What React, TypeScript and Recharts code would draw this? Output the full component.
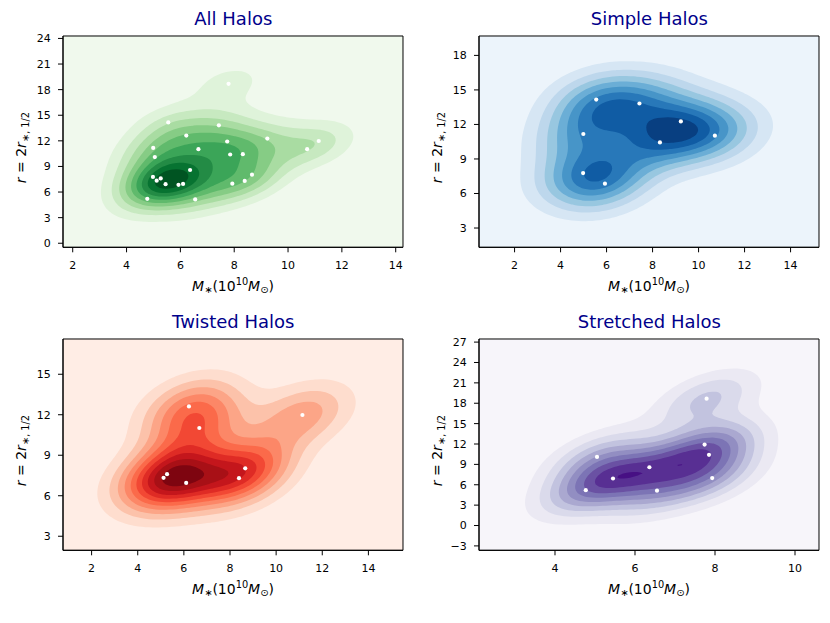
import React, { useMemo } from 'react';
import { ScatterChart, Scatter, XAxis, YAxis, CartesianGrid, ReferenceArea } from 'recharts';

const FONT = "'DejaVu Sans', sans-serif";

// ---- data: stellar mass (1e10 Msun) and radius r = 2 r_half ----
const simpleMass = [5.55, 7.43, 9.23, 4.99, 10.71, 8.32, 4.98, 5.93];
const simpleRadius = [14.16, 13.82, 12.26, 11.17, 11.02, 10.44, 7.77, 6.85];

const twistedMass = [6.22, 11.14, 6.67, 8.66, 8.39, 5.27, 5.12, 6.1];
const twistedRadius = [12.62, 11.98, 11.02, 8.03, 7.3, 7.6, 7.33, 6.95];

const stretchedMass = [7.79, 7.74, 7.85, 5.05, 6.36, 5.45, 7.93, 4.77, 6.55];
const stretchedRadius = [18.68, 11.92, 10.4, 10.1, 8.58, 6.92, 6.98, 5.2, 5.13];

const allMass = [...simpleMass, ...twistedMass, ...stretchedMass];
const allRadius = [...simpleRadius, ...twistedRadius, ...stretchedRadius];

// tick labels
const massTicks = [2, 4, 6, 8, 10, 12, 14];
const stretchedMassTicks = [4, 6, 8, 10];
const allRadiusTicks = [0, 3, 6, 9, 12, 15, 18, 21, 24];
const simpleRadiusTicks = [3, 6, 9, 12, 15, 18];
const twistedRadiusTicks = [3, 6, 9, 12, 15];
const stretchedRadiusTicks = [-3, 0, 3, 6, 9, 12, 15, 18, 21, 24, 27];

const titles = ['All Halos', 'Simple Halos', 'Twisted Halos', 'Stretched Halos'];

// colormaps (ColorBrewer 9-class sequential)
const GREENS = ['#f7fcf5', '#e5f5e0', '#c7e9c0', '#a1d99b', '#74c476', '#41ab5d', '#238b45', '#006d2c', '#00441b'];
const BLUES = ['#f7fbff', '#deebf7', '#c6dbef', '#9ecae1', '#6baed6', '#4292c6', '#2171b5', '#08519c', '#08306b'];
const REDS = ['#fff5f0', '#fee0d2', '#fcbba1', '#fc9272', '#fb6a4a', '#ef3b2c', '#cb181d', '#a50f15', '#67000d'];
const PURPLES = ['#fcfbfd', '#efedf5', '#dadaeb', '#bcbddc', '#9e9ac8', '#807dba', '#6a51a3', '#54278f', '#3f007d'];

const GRID = 100;
const CUT = 3;
const NBINS = 11;

// layout
const YW = 60;
const MT = 36;
const MR = 10;
const MB = 5;
const XH = 50;
const PW = 340;
const PH = 211.3;

function hexToRgb(h: string) {
  return [parseInt(h.slice(1, 3), 16), parseInt(h.slice(3, 5), 16), parseInt(h.slice(5, 7), 16)];
}
function cmap(anchors: string[], t: number) {
  const n = anchors.length - 1;
  const p = Math.min(Math.max(t, 0), 1) * n;
  const i = Math.min(Math.floor(p), n - 1);
  const f = p - i;
  const a = hexToRgb(anchors[i]);
  const b = hexToRgb(anchors[i + 1]);
  const c = a.map((v, k) => Math.round(v + (b[k] - v) * f));
  return `rgb(${c[0]},${c[1]},${c[2]})`;
}

function isoRings(z: Float64Array, n: number, t: number): [number, number][][] {
  const W = n + 2;
  const val = (i: number, j: number) => (i < 0 || j < 0 || i >= n || j >= n ? 0 : z[j * n + i]);
  const adj = new Map<number, number[]>();
  const pos = new Map<number, [number, number]>();
  const hKey = (i: number, j: number) => ((j + 1) * W + (i + 1)) * 2;
  const vKey = (i: number, j: number) => ((j + 1) * W + (i + 1)) * 2 + 1;
  const pt = (key: number, i0: number, j0: number, i1: number, j1: number) => {
    if (!pos.has(key)) {
      const v0 = val(i0, j0);
      const v1 = val(i1, j1);
      const f = (t - v0) / (v1 - v0);
      pos.set(key, [i0 + (i1 - i0) * f, j0 + (j1 - j0) * f]);
    }
    return key;
  };
  const add = (a: number, b: number) => {
    let l = adj.get(a);
    if (!l) {
      l = [];
      adj.set(a, l);
    }
    l.push(b);
  };
  const link = (a: number, b: number) => {
    add(a, b);
    add(b, a);
  };
  for (let j = -1; j < n; j++) {
    for (let i = -1; i < n; i++) {
      const a = val(i, j), b = val(i + 1, j), c = val(i + 1, j + 1), d = val(i, j + 1);
      const A = a >= t, B = b >= t, C = c >= t, D = d >= t;
      if (A === B && B === C && C === D) continue;
      const eB = A !== B ? pt(hKey(i, j), i, j, i + 1, j) : -1;
      const eR = B !== C ? pt(vKey(i + 1, j), i + 1, j, i + 1, j + 1) : -1;
      const eT = D !== C ? pt(hKey(i, j + 1), i, j + 1, i + 1, j + 1) : -1;
      const eL = A !== D ? pt(vKey(i, j), i, j, i, j + 1) : -1;
      const es = [eB, eR, eT, eL].filter((e) => e >= 0);
      if (es.length === 2) link(es[0], es[1]);
      else if (es.length === 4) {
        const center = (a + b + c + d) / 4 >= t;
        if (A && C) {
          if (center) { link(eB, eR); link(eL, eT); } else { link(eB, eL); link(eR, eT); }
        } else {
          if (center) { link(eB, eL); link(eR, eT); } else { link(eB, eR); link(eL, eT); }
        }
      }
    }
  }
  const seen = new Set<number>();
  const rings: [number, number][][] = [];
  for (const start of adj.keys()) {
    if (seen.has(start)) continue;
    const ring: [number, number][] = [];
    let cur: number | undefined = start;
    while (cur !== undefined && !seen.has(cur)) {
      seen.add(cur);
      ring.push(pos.get(cur)!);
      const nb: number[] = adj.get(cur)!;
      cur = nb.find((k) => !seen.has(k));
    }
    if (ring.length >= 3) rings.push(ring);
  }
  return rings;
}

// Gaussian KDE with Scott's rule and full covariance, evaluated on a 100x100 grid
function buildModel(xs: number[], ys: number[], anchors: string[]) {
  const n = xs.length;
  const mx = xs.reduce((s, v) => s + v, 0) / n;
  const my = ys.reduce((s, v) => s + v, 0) / n;
  let sxx = 0, syy = 0, sxy = 0;
  for (let k = 0; k < n; k++) {
    sxx += (xs[k] - mx) ** 2;
    syy += (ys[k] - my) ** 2;
    sxy += (xs[k] - mx) * (ys[k] - my);
  }
  sxx /= n - 1;
  syy /= n - 1;
  sxy /= n - 1;
  const f2 = Math.pow(n, -1 / 3);
  const cxx = sxx * f2, cyy = syy * f2, cxy = sxy * f2;
  const det = cxx * cyy - cxy * cxy;
  const ixx = cyy / det, iyy = cxx / det, ixy = -cxy / det;
  const hx = Math.sqrt(cxx), hy = Math.sqrt(cyy);

  const x0 = Math.min(...xs) - CUT * hx, x1 = Math.max(...xs) + CUT * hx;
  const y0 = Math.min(...ys) - CUT * hy, y1 = Math.max(...ys) + CUT * hy;
  const dx = (x1 - x0) / (GRID - 1), dy = (y1 - y0) / (GRID - 1);
  const z = new Float64Array(GRID * GRID);
  const norm = 1 / (n * 2 * Math.PI * Math.sqrt(det));
  let zmax = 0;
  for (let j = 0; j < GRID; j++) {
    const gy = y0 + j * dy;
    for (let i = 0; i < GRID; i++) {
      const gx = x0 + i * dx;
      let s = 0;
      for (let k = 0; k < n; k++) {
        const u = gx - xs[k], v = gy - ys[k];
        s += Math.exp(-0.5 * (ixx * u * u + 2 * ixy * u * v + iyy * v * v));
      }
      const val = s * norm;
      z[j * GRID + i] = val;
      if (val > zmax) zmax = val;
    }
  }
  const raw = zmax / NBINS;
  const scale = Math.pow(10, Math.floor(Math.log10(raw)));
  const step = [1, 2, 2.5, 5, 10].map((s) => s * scale).find((s) => s >= raw * (1 - 1e-9))!;
  const L = Math.ceil(zmax / step - 1e-9);
  const levels: { color: string; data: { x: number; y: number }[]; lengths: number[] }[] = [];
  for (let k = 1; k < L; k++) {
    const rings = isoRings(z, GRID, k * step);
    const data: { x: number; y: number }[] = [];
    const lengths: number[] = [];
    rings.forEach((r) => {
      lengths.push(r.length);
      r.forEach(([gi, gj]) => data.push({ x: x0 + gi * dx, y: y0 + gj * dy }));
    });
    levels.push({ color: cmap(anchors, (k + 0.5) / L), data, lengths });
  }
  return {
    xDomain: [x0, x1] as [number, number],
    yDomain: [y0, y1] as [number, number],
    background: cmap(anchors, 0.5 / L),
    levels,
  };
}

const ringPath = (lengths: number[], color: string) => (props: any) => {
  const pts = props.points || [];
  let d = '';
  let k = 0;
  for (const len of lengths) {
    for (let m = 0; m < len; m++) {
      const p = pts[k + m];
      if (!p) continue;
      d += (m ? 'L' : 'M') + p.x.toFixed(2) + ' ' + p.y.toFixed(2);
    }
    d += 'Z';
    k += len;
  }
  return <path d={d} fill={color} fillRule="evenodd" stroke="none" />;
};

const Empty = () => <g />;
const WhiteDot = (p: any) => <circle cx={p.cx} cy={p.cy} r={2.1} fill="#ffffff" />;

const MassLabel = (props: any) => {
  const vb = props.viewBox || { x: 0, y: 0, width: 0, height: 0 };
  const cx = vb.x + vb.width / 2;
  const y = vb.y + 43.3;
  return (
    <text x={cx} y={y} textAnchor="middle" fontFamily={FONT} fontSize={14} fill="#000">
      <tspan fontStyle="italic">M</tspan>
      <tspan fontSize={9.8} dy={2.5}>∗</tspan>
      <tspan dy={-2.5}>(10</tspan>
      <tspan fontSize={9.8} dy={-6}>10</tspan>
      <tspan fontStyle="italic" dy={6}>M</tspan>
      <tspan fontSize={9.8} dy={2.5}>⊙</tspan>
      <tspan dy={-2.5}>)</tspan>
    </text>
  );
};

const RadiusLabel = (props: any) => {
  const vb = props.viewBox || { x: 0, y: 0, width: 0, height: 0 };
  const x = vb.x + vb.width - 36.6;
  const y = vb.y + vb.height / 2 + 6;
  return (
    <text x={x} y={y} transform={`rotate(-90 ${x} ${y})`} textAnchor="middle" fontFamily={FONT} fontSize={14} fill="#000">
      <tspan fontStyle="italic">r</tspan>
      <tspan> = 2</tspan>
      <tspan fontStyle="italic">r</tspan>
      <tspan fontSize={9.8} dy={3}>∗, 1/2</tspan>
    </text>
  );
};

const fmt = (v: number) => (v < 0 ? `\u2212${-v}` : `${v}`);

type PanelProps = {
  title: string;
  xs: number[];
  ys: number[];
  anchors: string[];
  xTicks: number[];
  yTicks: number[];
  plotLeft: number;
  plotTop: number;
};

function Panel({ title, xs, ys, anchors, xTicks, yTicks, plotLeft, plotTop }: PanelProps) {
  const model = useMemo(() => buildModel(xs, ys, anchors), [xs, ys, anchors]);
  const points = xs.map((x, i) => ({ x, y: ys[i] }));
  const tickStyle = { fontSize: 11, fill: '#000', fontFamily: FONT };
  return (
    <div style={{ position: 'absolute', left: plotLeft - YW, top: plotTop - MT, width: YW + PW + MR, height: MT + PH + XH + MB }}>
      <ScatterChart width={YW + PW + MR} height={MT + PH + XH + MB} margin={{ top: MT, right: MR, bottom: MB, left: 0 }}>
        <CartesianGrid fill={model.background} stroke="none" horizontal={false} vertical={false} />
        <XAxis
          type="number"
          dataKey="x"
          domain={model.xDomain}
          allowDataOverflow
          ticks={xTicks}
          interval={0}
          height={XH}
          tickSize={5}
          tickMargin={8.5}
          stroke="#000"
          tick={tickStyle}
          tickFormatter={fmt}
          label={(p: any) => <MassLabel {...p} />}
        />
        <YAxis
          type="number"
          dataKey="y"
          domain={model.yDomain}
          allowDataOverflow
          ticks={yTicks}
          interval={0}
          width={YW}
          tickSize={5}
          tickMargin={7.3}
          stroke="#000"
          tick={tickStyle}
          tickFormatter={fmt}
          label={(p: any) => <RadiusLabel {...p} />}
        />
        {model.levels.map((lv, k) => (
          <Scatter
            key={`lv${k}`}
            data={lv.data}
            line={ringPath(lv.lengths, lv.color)}
            shape={Empty}
            isAnimationActive={false}
            legendType="none"
          />
        ))}
        <Scatter data={points} shape={WhiteDot} isAnimationActive={false} legendType="none" />
        <ReferenceArea
          x1={model.xDomain[0]}
          x2={model.xDomain[1]}
          y1={model.yDomain[0]}
          y2={model.yDomain[1]}
          fill="none"
          fillOpacity={0}
          stroke="#000"
          strokeWidth={1}
          ifOverflow="visible"
        />
      </ScatterChart>
      <div
        style={{
          position: 'absolute',
          left: YW,
          width: PW,
          top: MT - 10 - 16.2,
          textAlign: 'center',
          fontFamily: FONT,
          fontSize: 18,
          lineHeight: '20px',
          color: '#00008b',
          whiteSpace: 'nowrap',
        }}
      >
        {title}
      </div>
    </div>
  );
}

export default function App() {
  return (
    <div style={{ position: 'absolute', left: 0, top: 0, width: 830, height: 623, background: '#ffffff', overflow: 'hidden' }}>
      <Panel title={titles[0]} xs={allMass} ys={allRadius} anchors={GREENS} xTicks={massTicks} yTicks={allRadiusTicks} plotLeft={63.3} plotTop={35.5} />
      <Panel title={titles[1]} xs={simpleMass} ys={simpleRadius} anchors={BLUES} xTicks={massTicks} yTicks={simpleRadiusTicks} plotLeft={479.3} plotTop={35.5} />
      <Panel title={titles[2]} xs={twistedMass} ys={twistedRadius} anchors={REDS} xTicks={massTicks} yTicks={twistedRadiusTicks} plotLeft={63.3} plotTop={338.5} />
      <Panel title={titles[3]} xs={stretchedMass} ys={stretchedRadius} anchors={PURPLES} xTicks={stretchedMassTicks} yTicks={stretchedRadiusTicks} plotLeft={479.3} plotTop={338.5} />
    </div>
  );
}
